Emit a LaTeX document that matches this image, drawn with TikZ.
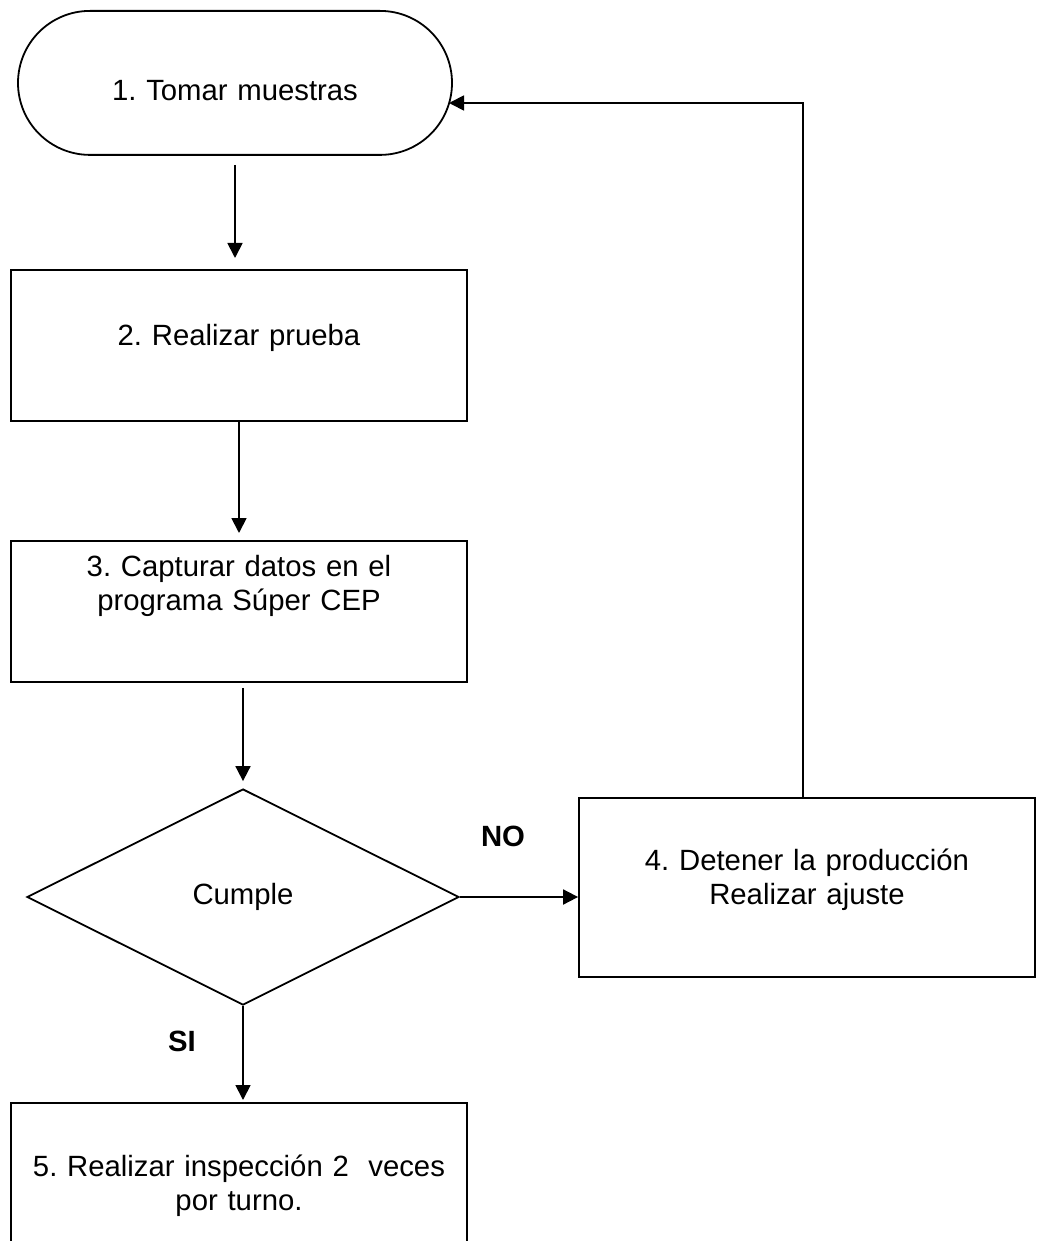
\documentclass[tikz,border=0pt]{standalone}
\usepackage{fontspec}
\setmainfont{Liberation Sans}
\usetikzlibrary{arrows.meta, shapes.geometric}
\frenchspacing

\tikzset{
    caja/.style={draw, line width=1.8pt, inner sep=0pt, anchor=north,
                 align=center, text width=456pt,
                 font=\fontsize{29.3pt}{34pt}\selectfont},
    decision/.style={draw, diamond, line width=1.8pt, inner sep=0pt,
                     minimum width=432pt, minimum height=216pt,
                     font=\fontsize{29.3pt}{34pt}\selectfont},
    flecha/.style={line width=1.8pt, -{Triangle[length=15pt, width=15pt]}},
    etiqueta/.style={font=\fontsize{29.3pt}{34pt}\selectfont\bfseries}
}

\begin{document}
\begin{tikzpicture}[x=1pt, y=-1pt]
    \useasboundingbox (0,0) rectangle (1037,1241);
    \clip (0,0) rectangle (1037,1241);

    \node[caja, text width=434pt, rounded corners=72pt,
          text height=90pt, text depth=54pt] (inicio) at (235,10) {1. Tomar muestras};
    \node[caja, text height=76pt, text depth=75pt] (prueba) at (239,269) {2. Realizar prueba};
    \node[caja, text height=36pt, text depth=105pt] (captura) at (239,540)
        {3. Capturar datos en el\\programa Súper CEP};
    \node[decision] (cumple) at (243,897) {Cumple};
    \node[caja, text height=73pt, text depth=106pt] (ajuste) at (807,797)
        {4. Detener la producción\\Realizar ajuste};
    \node[caja, text height=74pt, text depth=96pt] (inspeccion) at (239,1102)
        {5. Realizar inspección 2\ \ veces\\por turno.};

    \node[etiqueta] (no) at (503,836) {NO};
    \node[etiqueta] (si) at (182,1041) {SI};
    \coordinate (regreso) at (449,103);

    \draw[flecha, shorten <=9pt, shorten >=11pt] (inicio.south) -- (inicio.south |- prueba.north);
    \draw[flecha, shorten >=7pt] (prueba.south) -- (prueba.south |- captura.north);
    \draw[flecha, shorten <=5pt, shorten >=7pt] (captura.south -| cumple.north) -- (cumple.north);
    \draw[flecha] (cumple.east) -- (cumple.east -| ajuste.west);
    \draw[flecha, shorten >=2pt] (cumple.south) -- (cumple.south |- inspeccion.north);
    \draw[flecha] ([xshift=-4pt]ajuste.north) |- (regreso);
\end{tikzpicture}
\end{document}
